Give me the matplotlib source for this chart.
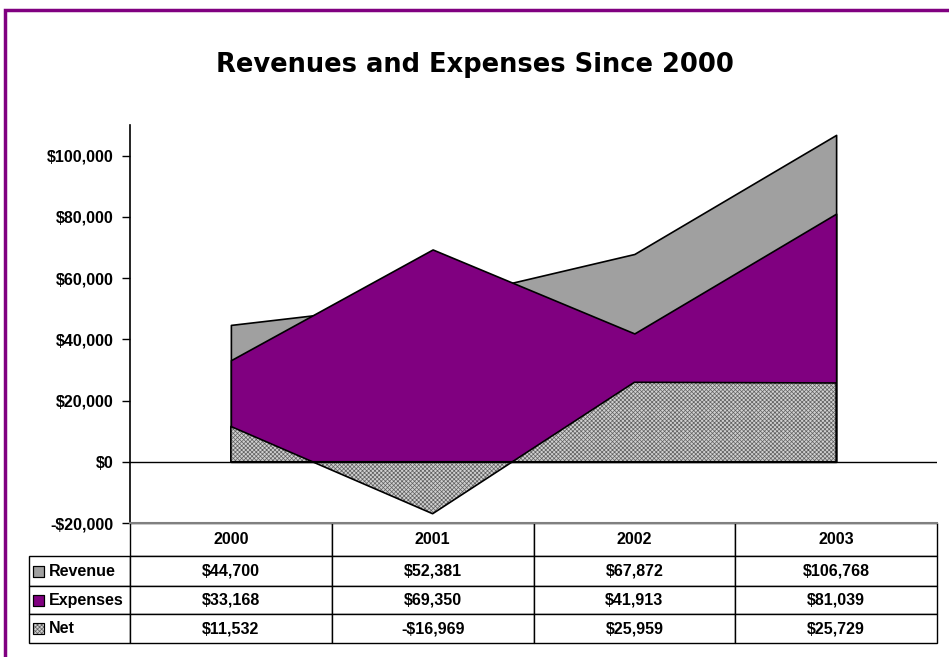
import matplotlib
matplotlib.use("Agg")
import matplotlib.pyplot as plt
from matplotlib.patches import Rectangle
import numpy as np

years = ["2000", "2001", "2002", "2003"]
revenue = [44700, 52381, 67872, 106768]
expenses = [33168, 69350, 41913, 81039]
net = [11532, -16969, 25959, 25729]
series_names = ["Revenue", "Expenses", "Net"]
yticks = [-20000, 0, 20000, 40000, 60000, 80000, 100000]

W, H = 949, 657
plt.rcParams['font.family'] = ['Liberation Sans Narrow', 'Liberation Sans', 'DejaVu Sans']
plt.rcParams['hatch.linewidth'] = 0.5

HATCH = "xxxxxxxx"
HATCH_FC = "#d0d0d0"
HATCH_EC = "#606060"

fig = plt.figure(figsize=(W / 100, H / 100), dpi=100)

# axes in pixel terms: left 130, right 937, top 125, bottom 523
left, right, top, bottom = 130, 937, 125, 523
ax = fig.add_axes([left / W, 1 - bottom / H, (right - left) / W, (bottom - top) / H])

x = np.arange(len(years))
ax.fill_between(x, 0, revenue, facecolor="#a0a0a0", edgecolor="black", lw=1.2, zorder=1)
ax.fill_between(x, 0, expenses, facecolor="#800080", edgecolor="black", lw=1.2, zorder=2)
ax.fill_between(x, 0, net, facecolor=HATCH_FC, edgecolor=HATCH_EC, hatch=HATCH, lw=0, zorder=3)
ax.fill_between(x, 0, net, facecolor="none", edgecolor="black", lw=1.2, zorder=4)

ax.axhline(0, color="black", lw=1.0, zorder=5)
ax.set_xlim(-0.5, len(years) - 0.5)
ax.set_ylim(-20000, 110000)
ax.set_yticks(yticks)
ax.set_yticklabels([f"-${abs(v):,}" if v < 0 else f"${v:,}" for v in yticks],
                   fontsize=11.5, fontweight="bold")
ax.set_xticks([])
for s in ["top", "right"]:
    ax.spines[s].set_visible(False)
ax.spines["bottom"].set_color("#808080")
ax.spines["bottom"].set_linewidth(1.5)
ax.spines["left"].set_linewidth(1.2)
ax.tick_params(axis="y", direction="out", length=6, width=1, pad=6)

fig.suptitle("Revenues and Expenses Since 2000", x=0.5, y=1 - 65 / H, va="center",
             fontsize=18.5, fontweight="bold", family="DejaVu Sans")


# data table below the axes
def money(v):
    return f"-${abs(v):,}" if v < 0 else f"${v:,}"


cell_text = [[""] + years]
for name, vals in zip(series_names, [revenue, expenses, net]):
    cell_text.append([name] + [money(v) for v in vals])

axw = right - left
axh = bottom - top
lab_w = 101
col_w = axw / 4
row_h = [33, 30, 28, 29]
tbl_h = sum(row_h)
tbl = ax.table(cellText=cell_text, cellLoc="center",
               colWidths=[lab_w] + [col_w] * 4,
               bbox=[-lab_w / axw, -tbl_h / axh, (axw + lab_w) / axw, tbl_h / axh])
tbl.auto_set_font_size(False)
tbl.set_fontsize(11.5)
for (r, c), cell in tbl.get_celld().items():
    cell.set_linewidth(1.0)
    cell.set_height(row_h[r])
    cell.get_text().set_fontweight("bold")
    if c == 0:
        if r == 0:
            cell.visible_edges = ""
            cell.set_facecolor("none")
        else:
            cell._loc = "left"
            cell.get_text().set_ha("left")
            cell.PAD = 0.2

# legend swatches in the row label cells
sw_styles = [("#a0a0a0", "black", None), ("#800080", "black", None),
             (HATCH_FC, HATCH_EC, HATCH)]
y0 = bottom + row_h[0]
for i, (fc, ec, hatch) in enumerate(sw_styles):
    t = y0 + sum(row_h[1:1 + i])
    cy = t + row_h[1 + i] / 2
    s = 11
    fig.add_artist(Rectangle((33 / W, 1 - (cy + s / 2) / H), s / W, s / H,
                             transform=fig.transFigure, facecolor=fc,
                             edgecolor=ec, hatch=hatch, lw=0.8))
    fig.add_artist(Rectangle((33 / W, 1 - (cy + s / 2) / H), s / W, s / H,
                             transform=fig.transFigure, facecolor="none",
                             edgecolor="black", lw=0.8))

# outer purple frame
fig.add_artist(Rectangle((5 / W, -0.05), 1.2, 1 - 10 / H + 0.05,
                         transform=fig.transFigure, facecolor="none",
                         edgecolor="#800080", lw=2.5, clip_on=False))

fig.savefig("out.png", dpi=100)
